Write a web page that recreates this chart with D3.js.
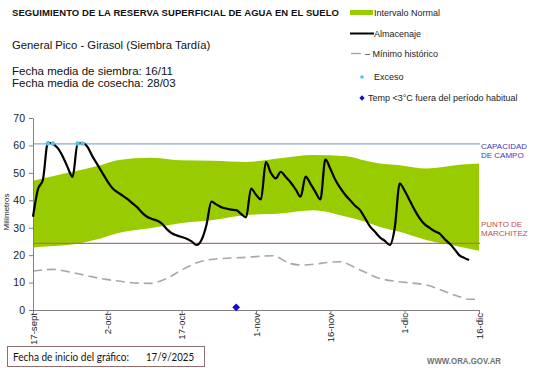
<!DOCTYPE html>
<html><head><meta charset="utf-8">
<script src="https://cdn.jsdelivr.net/npm/d3@7"></script>
<style>body{margin:0;background:#fff}svg{display:block}</style>
</head><body>
<script>
// ---- data ----
const startDate = "2025-09-17";
const tickDays = [0, 15, 30, 45, 60, 75, 90];
const tickLabels = ["17-sept", "2-oct", "17-oct", "1-nov", "16-nov", "1-dic", "16-dic"];
const yTicks = [0, 10, 20, 30, 40, 50, 60, 70];

// Almacenaje (daily, day 0 = 17-sept)
const almValues = [34,44,47.5,61,60.5,59,56,52,48.5,60.8,60.8,59.5,56,53,50,47,44.5,43,41.8,40.5,
  39,37.5,35.5,34,33.2,32.6,31.5,29.5,28,27.2,26.6,26,25,23.7,25.5,31,39.5,38.5,37.5,37,
  36.6,36.4,35,33.8,44.3,42,40.3,54,50,48,50.4,48.5,46.5,44,41.3,48.6,46,43,40.3,54.9,
  51.5,47.5,44.5,42,40,38,36.4,33.5,30.5,28.5,26.5,25.2,23.7,30,46.1,43.5,40,36.5,33.5,31.3,
  30,28.8,27.9,26,24.3,22.3,20,19,18.2];

// Intervalo normal
const bandDays  = [0, 3.5, 7, 13.6, 17, 23.6, 29.7, 36.4, 43.1, 49.9, 56.5, 63.3, 67, 70, 74, 79.4, 86.1, 90];
const bandUpper = [47.1, 48.6, 50, 52.8, 54.6, 55.5, 54.6, 54.4, 54, 55.3, 56.5, 56.1, 54.5, 53.4, 52.8, 51.6, 53, 53.4];
const bandLower = [22.8, 23.2, 23.7, 26.1, 28, 29.8, 31.6, 32.8, 34.6, 35.2, 36.4, 34, 32.2, 30.3, 28.5, 25.5, 23.1, 21.6];

// Minimo historico
const minDays   = [0, 4, 7, 13.6, 23.6, 27, 30, 33.7, 36.4, 43.1, 48.4, 51.8, 54.3, 61.9, 66, 70, 74, 79.4, 86.1, 88, 90];
const minValues = [14.2, 14.8, 14, 11.5, 9.7, 11.5, 14.6, 17.6, 18.5, 19.2, 19.8, 17, 16.4, 17.6, 14.6, 11.5, 10.3, 9.1, 4.8, 3.9, 4.0];

// Exceso markers
const excesoDays = [3, 4, 9, 10];
const excesoValues = [60.7, 60.7, 60.7, 60.7];

// Temp < 3C
const tempDays = [41];
const tempValues = [1];

const capacidad = 60.6;
const marchitez = 24.3;

// ---- drawing ----
const W = 541, H = 368;
const FONT = "Liberation Sans, Arial, sans-serif";
const svg = d3.select("body").append("svg").attr("width", W).attr("height", H);
const parse = d3.timeParse("%Y-%m-%d");
const d0 = parse(startDate);
const dayToDate = d => d3.timeHour.offset(d0, d * 24);

const x = d3.scaleTime().domain([d0, dayToDate(90)]).range([33, 479]);
const y = d3.scaleLinear().domain([0, 70]).range([310, 118]);

// band
const bandData = bandDays.map((d, i) => ({d, u: bandUpper[i], l: bandLower[i]}));
svg.append("path").datum(bandData)
  .attr("fill", "#99cc00")
  .attr("d", d3.area().curve(d3.curveMonotoneX)
    .x(p => x(dayToDate(p.d))).y0(p => y(p.l)).y1(p => y(p.u)));

// reference lines
svg.append("line").attr("x1", x(dayToDate(0))).attr("x2", 480)
  .attr("y1", y(capacidad)).attr("y2", y(capacidad))
  .attr("stroke", "#8ea6d8").attr("stroke-width", 1.2);
svg.append("line").attr("x1", x(dayToDate(0))).attr("x2", 480)
  .attr("y1", y(marchitez)).attr("y2", y(marchitez))
  .attr("stroke", "#b86e6a").attr("stroke-width", 1.2);

// minimum historic
const minData = minDays.map((d, i) => ({d, v: minValues[i]}));
svg.append("path").datum(minData)
  .attr("fill", "none").attr("stroke", "#a6a6a6").attr("stroke-width", 1.6)
  .attr("stroke-dasharray", "9,5")
  .attr("d", d3.line().curve(d3.curveMonotoneX).x(p => x(dayToDate(p.d))).y(p => y(p.v)));

// axes
const yAxis = d3.axisLeft(y).tickValues(yTicks).tickSize(4).tickSizeOuter(0);
const gy = svg.append("g").attr("transform", "translate(33,0)").call(yAxis);
gy.select(".domain").attr("stroke", "#808080");
gy.selectAll(".tick line").attr("stroke", "#808080");
gy.selectAll(".tick text").attr("font-family", FONT)
  .attr("font-size", 10.5).attr("fill", "#222").attr("x", -8);

const xAxis = d3.axisBottom(x).tickValues(tickDays.map(dayToDate))
  .tickFormat("").tickSize(4).tickSizeOuter(0);
const gx = svg.append("g").attr("transform", "translate(0,310)").call(xAxis);
gx.select(".domain").attr("stroke", "#808080");
gx.selectAll(".tick line").attr("stroke", "#808080");
gx.selectAll(".tick text").remove();

// rotated x tick labels
tickDays.forEach((d, i) => {
  svg.append("text")
    .attr("transform", "translate(" + (x(dayToDate(d)) + 3.5) + ",313) rotate(-90)")
    .attr("text-anchor", "end")
    .attr("font-family", FONT).attr("font-size", 9.6).attr("fill", "#222")
    .text(tickLabels[i]);
});

// almacenaje
svg.append("path").datum(almValues)
  .attr("fill", "none").attr("stroke", "#000").attr("stroke-width", 2.2)
  .attr("stroke-linejoin", "round")
  .attr("d", d3.line().curve(d3.curveMonotoneX).x((v, i) => x(dayToDate(i))).y(v => y(v)));

// exceso
svg.selectAll(".exc").data(excesoDays).enter().append("circle")
  .attr("cx", d => x(dayToDate(d))).attr("cy", (d, i) => y(excesoValues[i]))
  .attr("r", 2.2).attr("fill", "#4fc3e8");

// temp diamonds
svg.selectAll(".tmp").data(tempDays).enter().append("path")
  .attr("transform", (d, i) => `translate(${x(dayToDate(d))},${y(tempValues[i])}) rotate(45)`)
  .attr("d", d3.symbol().type(d3.symbolSquare).size(30)).attr("fill", "#1010c8");

// y label
svg.append("text").attr("transform", "translate(9,212) rotate(-90)")
  .attr("text-anchor", "middle").attr("font-family", FONT)
  .attr("font-size", 8).attr("fill", "#222").text("Milímetros");

// right labels
const rl = svg.append("g").attr("font-family", FONT).attr("font-size", 8);
rl.append("text").attr("x", 481).attr("y", y(capacidad) + 5).attr("fill", "#3b3bb8").text("CAPACIDAD");
rl.append("text").attr("x", 481).attr("y", y(capacidad) + 14).attr("fill", "#3b3bb8").text("DE  CAMPO");
rl.append("text").attr("x", 481).attr("y", y(marchitez) - 16).attr("fill", "#c0504d").text("PUNTO  DE");
rl.append("text").attr("x", 481).attr("y", y(marchitez) - 7).attr("fill", "#c0504d").text("MARCHITEZ");

// titles
const t = svg.append("g").attr("font-family", FONT).attr("fill", "#111");
t.append("text").attr("x", 12).attr("y", 16).attr("font-size", 9.5).attr("font-weight", "bold")
  .attr("textLength", 327).attr("lengthAdjust", "spacing")
  .text("SEGUIMIENTO DE LA RESERVA  SUPERFICIAL DE AGUA EN EL SUELO");
t.append("text").attr("x", 12).attr("y", 49).attr("font-size", 11.3).text("General Pico - Girasol (Siembra Tardía)");
t.append("text").attr("x", 12).attr("y", 74.5).attr("font-size", 11.5).text("Fecha media de siembra: 16/11");
t.append("text").attr("x", 12).attr("y", 87).attr("font-size", 11.5).text("Fecha media de cosecha: 28/03");

// legend
const lg = svg.append("g").attr("font-family", FONT).attr("font-size", 9).attr("fill", "#222");
lg.append("rect").attr("x", 350).attr("y", 10).attr("width", 23).attr("height", 5).attr("fill", "#99cc00");
lg.append("text").attr("x", 374).attr("y", 15.5).text("Intervalo Normal");
lg.append("line").attr("x1", 350).attr("x2", 374).attr("y1", 33.5).attr("y2", 33.5).attr("stroke", "#000").attr("stroke-width", 2);
lg.append("text").attr("x", 374).attr("y", 37).text("Almacenaje");
lg.append("line").attr("x1", 351).attr("x2", 361).attr("y1", 53.5).attr("y2", 53.5).attr("stroke", "#a6a6a6").attr("stroke-width", 1.4);
lg.append("text").attr("x", 365).attr("y", 57).text("– Mínimo histórico");
lg.append("circle").attr("cx", 362).attr("cy", 77).attr("r", 1.8).attr("fill", "#4fc3e8");
lg.append("text").attr("x", 374).attr("y", 80).text("Exceso");
lg.append("path").attr("transform", "translate(362,98) rotate(45)").attr("d", d3.symbol().type(d3.symbolSquare).size(14)).attr("fill", "#1010c8");
lg.append("text").attr("x", 368).attr("y", 101).text("Temp <3°C fuera del período habitual");

// bottom box
svg.append("rect").attr("x", 7.5).attr("y", 346.5).attr("width", 197).attr("height", 20)
  .attr("fill", "#fff").attr("stroke", "#8c6f6f").attr("stroke-width", 1);
const bt = svg.append("g").attr("font-family", "Lato, Open Sans, sans-serif").attr("font-size", 11.5).attr("fill", "#111");
bt.append("text").attr("x", 13).attr("y", 361).attr("textLength", 116).attr("lengthAdjust", "spacingAndGlyphs").text("Fecha de inicio del gráfico:");
bt.append("text").attr("x", 146).attr("y", 361).attr("textLength", 48).attr("lengthAdjust", "spacingAndGlyphs").text("17/9/2025");

svg.append("text").attr("x", 427).attr("y", 364)
  .attr("font-family", FONT).attr("font-size", 9.5).attr("font-weight", "bold").attr("fill", "#707070")
  .attr("textLength", 74).attr("lengthAdjust", "spacingAndGlyphs")
  .text("WWW.ORA.GOV.AR");
</script>
</body></html>
